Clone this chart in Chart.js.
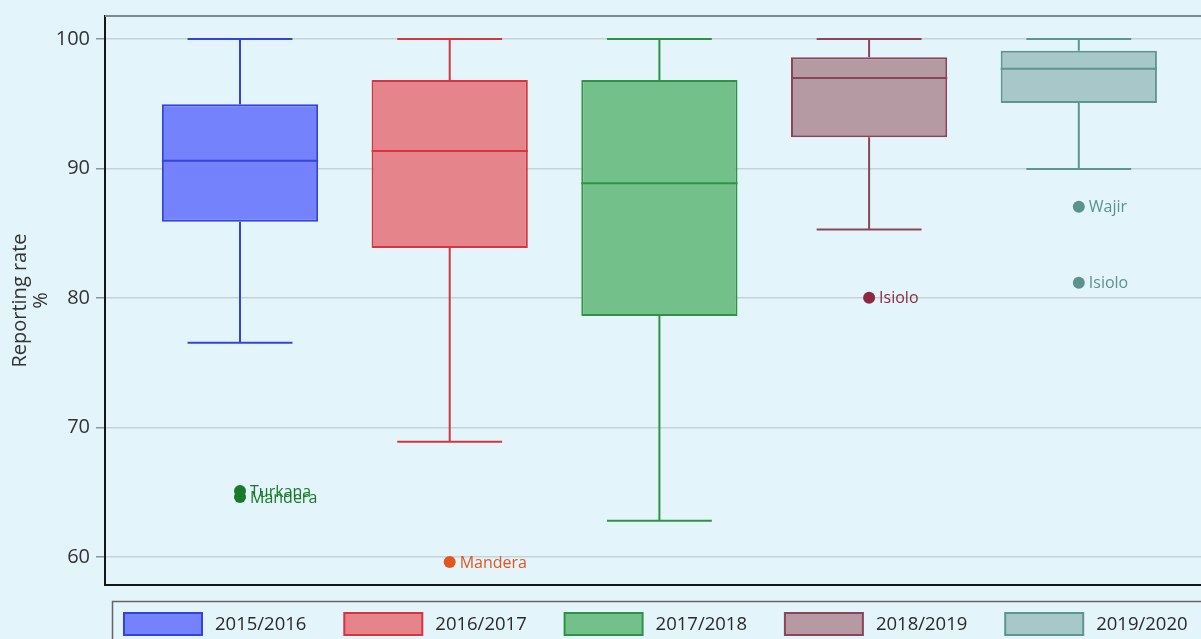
<!DOCTYPE html>
<html>
<head>
    <title>Reporting rate by season</title>
    <style>
        body { margin: 0; background: #e4f4fb; overflow: hidden; font-family: "Open Sans", sans-serif; }
        #boxChart { display: block; }
    </style>
    <script src="https://cdn.jsdelivr.net/npm/chart.js"></script>
</head>
<body>

    <canvas id="boxChart" width="1201" height="639"></canvas>

    <script>
        // box plot summaries per season (reporting rate %)
        const seasons = ['2015/2016', '2016/2017', '2017/2018', '2018/2019', '2019/2020'];
        const whiskerHigh = [100, 100, 100, 100, 100];
        const upperQuartile = [94.96, 96.83, 96.83, 98.59, 99.10];
        const medians = [90.6, 91.35, 88.86, 96.99, 97.71];
        const lowerQuartile = [85.89, 83.86, 78.61, 92.41, 95.06];
        const whiskerLow = [76.55, 68.90, 62.80, 85.30, 89.96];

        // outliers: season index, value, county name
        const outlierSeason = [0, 0, 1, 3, 4, 4];
        const outlierValues = [64.63, 65.1, 59.61, 80.03, 87.05, 81.18];
        const outlierNames = ['Mandera', 'Turkana', 'Mandera', 'Isiolo', 'Wajir', 'Isiolo'];

        const yTicks = [60, 70, 80, 90, 100];

        // styles
        const boxFill = ['#7482fc', '#e5848a', '#74c08a', '#b59aa3', '#a7c7c8'];
        const boxLine = ['#3344dd', '#d4353e', '#2e9444', '#8b4556', '#5c9690'];
        const outlierColors = ['#1a7a2a', '#1a7a2a', '#e2561e', '#8c2a42', '#5a938e', '#5a938e'];
        const capWidth = 0.5;

        const boxExtras = {
            id: 'boxExtras',
            beforeDatasetsDraw(chart) {
                const { ctx, scales: { x, y } } = chart;
                ctx.save();
                ctx.lineWidth = 2;
                seasons.forEach((s, i) => {
                    const cx = x.getPixelForValue(i + 1);
                    const half = x.getPixelForValue(i + 1 + capWidth / 2) - cx;
                    const yHi = y.getPixelForValue(whiskerHigh[i]);
                    const yLo = y.getPixelForValue(whiskerLow[i]);
                    ctx.strokeStyle = boxLine[i];
                    ctx.beginPath();
                    ctx.moveTo(cx, yHi); ctx.lineTo(cx, y.getPixelForValue(upperQuartile[i]));
                    ctx.moveTo(cx, y.getPixelForValue(lowerQuartile[i])); ctx.lineTo(cx, yLo);
                    ctx.moveTo(cx - half, yHi); ctx.lineTo(cx + half, yHi);
                    ctx.moveTo(cx - half, yLo); ctx.lineTo(cx + half, yLo);
                    ctx.stroke();
                });
                ctx.restore();
            },
            afterDatasetsDraw(chart) {
                const { ctx, scales: { y } } = chart;
                ctx.save();
                ctx.lineWidth = 2;
                seasons.forEach((s, i) => {
                    const bar = chart.getDatasetMeta(i).data[0];
                    const my = y.getPixelForValue(medians[i]);
                    ctx.strokeStyle = boxLine[i];
                    ctx.beginPath();
                    ctx.moveTo(bar.x - bar.width / 2, my);
                    ctx.lineTo(bar.x + bar.width / 2, my);
                    ctx.stroke();
                });
                // outlier labels
                const pts = chart.getDatasetMeta(seasons.length).data;
                ctx.font = '16px "Open Sans"';
                ctx.textBaseline = 'middle';
                ctx.textAlign = 'left';
                pts.forEach((pt, k) => {
                    ctx.fillStyle = outlierColors[k];
                    ctx.fillText(outlierNames[k], pt.x + 10, pt.y + 1);
                });
                ctx.restore();
            },
            afterDraw(chart) {
                const { ctx, chartArea: a } = chart;
                ctx.save();
                // frame: grey top, black bottom
                ctx.lineWidth = 2;
                ctx.strokeStyle = '#7d8a8e';
                ctx.beginPath();
                ctx.moveTo(a.left, a.top); ctx.lineTo(a.right, a.top);
                ctx.stroke();
                ctx.strokeStyle = '#151515';
                ctx.beginPath();
                ctx.moveTo(a.left - 1, a.bottom); ctx.lineTo(a.right, a.bottom);
                ctx.stroke();

                // legend box along the bottom
                ctx.lineWidth = 1.5;
                ctx.strokeStyle = '#666';
                ctx.strokeRect(112.5, 601.5, 1200, 60);
                ctx.font = '18.5px "Open Sans"';
                ctx.textBaseline = 'middle';
                ctx.textAlign = 'left';
                chart.data.datasets.slice(0, seasons.length).forEach((ds, i) => {
                    const lx = 124 + i * 220.3;
                    ctx.fillStyle = ds.backgroundColor;
                    ctx.fillRect(lx, 613, 78, 22);
                    ctx.lineWidth = 2;
                    ctx.strokeStyle = ds.borderColor;
                    ctx.strokeRect(lx, 613, 78, 22);
                    ctx.fillStyle = '#2a2a2a';
                    ctx.fillText(ds.label, lx + 91, 625);
                });
                ctx.restore();
            }
        };

        const boxDatasets = seasons.map((s, i) => ({
            type: 'bar',
            label: s,
            data: [{ x: i + 1, y: [lowerQuartile[i], upperQuartile[i]] }],
            backgroundColor: boxFill[i],
            borderColor: boxLine[i],
            borderWidth: 2,
            borderSkipped: false,
            grouped: false,
            categoryPercentage: 1,
            barPercentage: 0.745
        }));

        const outlierDataset = {
            type: 'scatter',
            label: 'Outliers',
            data: outlierValues.map((v, k) => ({ x: outlierSeason[k] + 1, y: v })),
            pointRadius: 6,
            pointBackgroundColor: outlierColors,
            pointBorderWidth: 0,
            showLine: false
        };

        new Chart(document.getElementById('boxChart'), {
            type: 'bar',
            data: { datasets: [...boxDatasets, outlierDataset] },
            options: {
                responsive: false,
                animation: false,
                layout: { autoPadding: false, padding: { top: 16, bottom: 54, left: 0, right: 0 } },
                plugins: {
                    legend: { display: false },
                    tooltip: { enabled: false }
                },
                scales: {
                    x: {
                        type: 'linear',
                        display: false,
                        offset: false,
                        min: 0.3562,
                        max: 5.5827,
                        ticks: { stepSize: 1, includeBounds: false }
                    },
                    y: {
                        min: 57.84,
                        max: 101.78,
                        afterFit: (scale) => {
                            scale.width = 105;
                            scale.paddingTop = 0;
                            scale.paddingBottom = 0;
                        },
                        afterBuildTicks: (scale) => { scale.ticks = yTicks.map(v => ({ value: v })); },
                        ticks: {
                            padding: 6,
                            color: '#333',
                            font: { family: 'Open Sans', size: 20 }
                        },
                        grid: {
                            color: '#c5d3d8',
                            lineWidth: 1.5,
                            tickLength: 9,
                            tickColor: '#8a9598'
                        },
                        border: { color: '#151515', width: 2 },
                        title: {
                            display: true,
                            text: ['Reporting rate', '%'],
                            color: '#333',
                            padding: { top: 10, bottom: 0 },
                            font: { family: 'Open Sans', size: 20, lineHeight: 1.05 }
                        }
                    }
                }
            },
            plugins: [boxExtras]
        });
    </script>

</body>
</html>
